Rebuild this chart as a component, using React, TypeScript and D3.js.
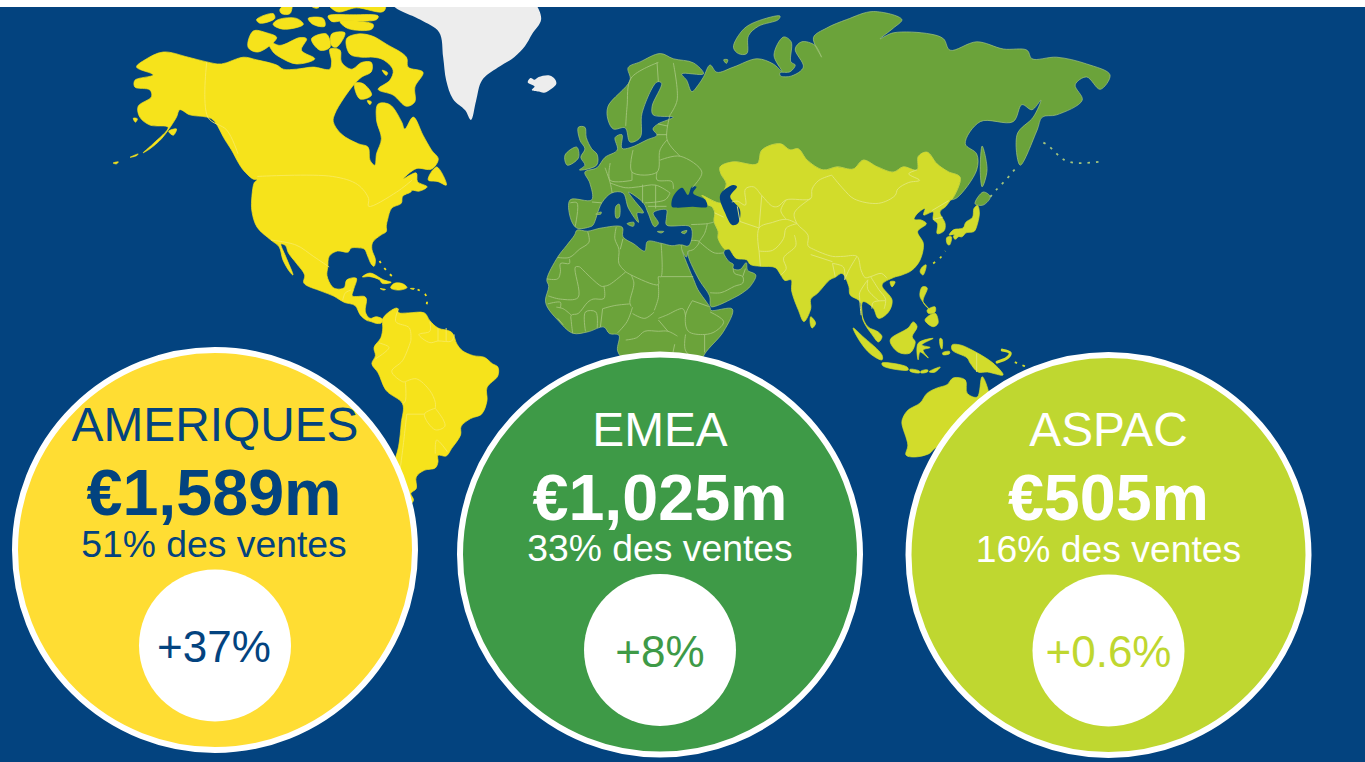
import React from "react";
import * as d3 from "d3";

// values
const regions = ["AMERIQUES", "EMEA", "ASPAC"];
const sales = ["€1,589m", "€1,025m", "€505m"];
const shares = ["51% des ventes", "33% des ventes", "16% des ventes"];
const growth = ["+37%", "+8%", "+0.6%"];

// land outlines as lon/lat
const russiaAsiaBorder = [[131.5,42.5],[132,42.7],[134.9,47.7],[130.5,49],[126.4,50.8],[122.8,52.9],[119.6,52.2],[119.1,49.4],[114,50.1],[110.4,48.9],[104.5,50.1],[99.3,51.5],[95.6,49.6],[89.7,50.1],[84.6,49.4],[78.7,51.5],[75.4,53.5],[72.4,53.3],[68.8,54.4],[62.1,53.3],[60.3,50.8],[51.5,51.2],[46.7,50.1],[47,48.5],[49,46.2],[47.5,43.5],[48.5,41.8],[46,41.8],[40,43.5],[41.5,42.5],[41.5,41.5],[43.5,41],[44.7,39.7],[44.5,37.5],[46,35],[46,33],[48.5,30]];

const northAmerica = [[-167.8,68.1],[-164.7,69.5],[-158,71],[-148.8,70],[-142,69.1],[-136.6,68.7],[-128.6,70],[-123.7,69.5],[-116.3,68.5],[-113.9,67.7],[-109,67.7],[-102.9,68.1],[-96.8,67.7],[-96.1,69.1],[-96.7,71.5],[-93,71.3],[-92.5,69.1],[-88.8,67.7],[-85,69],[-81.5,69],[-81.5,67.2],[-85,66.2],[-87.6,65],[-91.8,62.3],[-94.9,59.7],[-95.5,58.3],[-92.5,56.1],[-86.3,54.4],[-82.7,53.8],[-82,51.5],[-80.2,50.5],[-79.6,52.6],[-77.8,55.3],[-79.6,58.6],[-79,61.4],[-74.7,61.3],[-70.4,58.3],[-69.2,57],[-66.1,59.1],[-62.5,55.9],[-59.4,53.3],[-56.9,51.7],[-59.4,49.6],[-65,49.7],[-69.8,47.3],[-65,48.7],[-64.5,46.7],[-61,45.5],[-64,44.5],[-66.5,44.7],[-67,44.3],[-70,43.3],[-70.5,41.7],[-74,40.6],[-75.5,38],[-76,36.5],[-76,35],[-78,34],[-81,32],[-81.3,30],[-80,27],[-80.5,25.2],[-81.5,25.8],[-82.8,28],[-84,30],[-86,30.4],[-89,30.3],[-90,29.2],[-94,29.5],[-97,28],[-97.5,25],[-97.8,22.3],[-96,19],[-94.5,18.2],[-91.5,18.5],[-90.5,21],[-87,21.5],[-88,18],[-88.5,16],[-84,15.8],[-83.3,15],[-83.7,11],[-82,9],[-79.7,9.5],[-77.4,8.7],[-78,7.5],[-80,7.5],[-81.6,8],[-83,8.3],[-85.5,10],[-87.5,13],[-91.5,14],[-95.2,15.9],[-100,17.5],[-106.3,20],[-106,22.5],[-109,26],[-112,29],[-113,31],[-114.7,31.5],[-113,28],[-110.3,22.5],[-111.5,23.5],[-114,27],[-115.4,30.7],[-118.4,32.6],[-123.5,36.2],[-125.4,39.9],[-125.4,43.3],[-124.5,46.5],[-123.5,47.1],[-125,47.3],[-128.6,49.4],[-130.3,51],[-132.9,53.3],[-135.3,55.1],[-139.6,58.6],[-142,59.1],[-148.2,59.5],[-151.9,60.4],[-153.1,59.1],[-154.9,57.7],[-158.6,55.3],[-162.9,53.5],[-165.4,52.8],[-161.7,54.4],[-156.2,57.3],[-162.9,57.7],[-166.6,59.1],[-167.2,61],[-162.3,62.7],[-162.9,63.9],[-168.4,64.4],[-168.4,65.6],[-161.7,66.6]];
const southAmerica = [[-77.4,8.7],[-75,11],[-72,12.2],[-71.5,10.8],[-68,10.7],[-62,10.7],[-60,8.3],[-57,6],[-52,4.7],[-50,1],[-48,-1],[-44,-2.5],[-40,-3],[-37,-5],[-35,-6],[-35,-9],[-39,-13],[-39,-17.5],[-41,-22],[-45,-23.5],[-48.5,-26],[-48.7,-28.5],[-52,-32.5],[-54,-34.7],[-57,-34.5],[-57,-36.5],[-58,-38.3],[-62,-39],[-65,-41],[-65,-44.5],[-67,-46],[-66,-48],[-69,-51],[-68.5,-52.5],[-70,-55.5],[-74,-52.5],[-75.5,-48],[-74,-43],[-73.5,-38],[-71.5,-32],[-70.5,-25],[-70,-18.5],[-76,-14],[-79,-8],[-81.3,-5],[-80,-2.5],[-80.5,0],[-78,3],[-77.3,6]];
const americasIslands = [
  [[-90.6,73.2],[-86.4,74],[-81.4,73.7],[-75.9,72.3],[-68.6,70],[-68,68.1],[-62.5,67.1],[-65.5,64.4],[-65.5,61.8],[-68.6,61],[-73.5,63],[-79,64],[-74.7,65.6],[-73.5,67.5],[-77.1,69.5],[-80.8,70],[-85.1,70],[-89.4,70.6]],
  [[-87.6,65],[-84.5,65],[-81.4,63],[-85.7,62.3]],
  [[-77.5,67.5],[-75.5,67],[-76,66.5]],
  [[-83,62],[-81.5,61.8],[-82,61.3]],
  [[-119.4,72.8],[-115.1,72.1],[-107.8,73.4],[-105.3,73.2],[-107.2,71.3],[-102.3,69.7],[-109,68.7],[-115.1,70],[-117.6,71]],
  [[-126.8,71.8],[-124.9,74.5],[-120,74.2],[-116.3,73.4],[-123.1,71]],
  [[-103.5,73.2],[-98,74],[-96.7,71.8],[-100.4,71.3]],
  [[-96.1,74],[-91.2,74.2],[-94.3,71.8],[-96.1,72.1]],
  [[-115.7,76.4],[-109,76.6],[-106.5,75.6],[-113.9,74.8],[-117.6,75.6]],
  [[-123.7,76.4],[-117.6,77.4],[-117,76.6],[-122.5,75.8]],
  [[-104.7,76.6],[-99.2,76.6],[-98.6,75.3],[-102.9,75.6]],
  [[-93,76.1],[-80.8,75.6],[-81.4,74.8],[-90,74.9]],
  [[-97.4,77],[-88.2,77.2],[-79,77],[-79.6,76.4],[-91.8,76.2],[-96.1,76.1]],
  [[-99.2,80],[-75,81],[-75.9,78.9],[-77.1,77.7],[-87,78.2],[-94.3,77.7]],
  [[-115.1,78],[-110.8,79],[-111.4,77.4],[-114.5,77.4]],
  [[-104.5,80],[-99.5,80],[-101,78.2],[-103.5,78.4]],
  [[-60.6,47.1],[-57.5,50.1],[-53.9,45.9],[-57,46.7]],
  [[-128.6,49.8],[-124,47.3],[-125,47.8]],
  [[-84.8,21.9],[-82,23.1],[-77,21],[-74.2,20.2],[-77.5,19.9],[-78.5,21],[-82,22]],
  [[-74.4,18.5],[-73,19.9],[-70,19.8],[-68.4,18.6],[-71.5,17.8]],
  [[-78.3,18.3],[-76.3,18],[-77,17.8]],
  [[-67.2,18.3],[-65.7,18.3],[-66,18]],
  [[-169,58.9],[-167.5,58.8],[-168.2,58.2]],
  [[-156,56.6],[-153.1,57],[-154.3,55.9]],
  [[-170.2,52],[-167.2,52.6],[-167.8,52.3]],
  [[-176.4,51],[-174.5,51.2],[-175.2,50.8]],
];
const americasChains = [
  [[-78.5,26.7],[-77,25],[-75,23],[-73,21.5]],
  [[-64.5,18],[-61.7,16.5],[-61,14.5],[-61.5,12.2]],
];
const greenland = [[-73.9,78.9],[-63.6,76.4],[-56.6,74.3],[-55.1,70],[-54,65.6],[-51.5,62.3],[-47,60.3],[-44.9,58.6],[-43,62],[-40.8,65.6],[-35,68],[-29,70],[-25,72],[-22.4,74],[-19.1,76.4],[-21.3,79],[-30,84],[-60,84]];
const iceland = [[-24,65.2],[-23,66],[-21.5,65.7],[-20,66.2],[-16,66.5],[-14,65.8],[-13.5,65],[-15,64.2],[-18,63.4],[-20,63.6],[-22.5,63.9],[-21.5,64.5]];

const eurasiaCoast = [[-8.4,42.5],[-0.5,42.5],[-1.2,46.4],[-3,48.9],[1.4,49.9],[4.4,52],[8.9,53.3],[8.1,55.5],[10.6,56],[10.6,53.6],[13.6,53.7],[19.9,55.1],[23.5,55.9],[22,57],[23.9,57.9],[29.5,59.1],[22.1,59.5],[21.7,61],[25.2,65.1],[23.5,65.3],[18,59.8],[17.3,55.5],[13.6,54.7],[11.8,57.2],[7.5,57],[5.5,58.6],[5.5,61],[13.6,65.6],[12.9,68],[17.3,69.1],[24.7,70.7],[29.5,69.7],[36.9,68.9],[40.6,66.8],[32.6,66.8],[34.4,65.6],[36.3,63.6],[38.7,64.8],[40.6,66.2],[43,68.5],[45.5,67.1],[51.6,68.1],[60.3,69.7],[66.2,68.7],[69.4,67.3],[66.5,70.4],[70,73.5],[72.8,72.7],[72.7,69.1],[74.3,68.5],[72.4,67.2],[68.7,67],[68.9,66.4],[73,66.4],[77.3,68.1],[74.3,71.5],[76.7,72.7],[81.6,72.1],[84,70],[81,73.4],[85.9,75],[93.2,76.4],[103,77.7],[113.5,76.4],[110.4,75],[105.5,73.2],[110.4,74.2],[123.9,74],[128.8,73.2],[131.2,71.3],[141,72.7],[150.8,71.5],[159.5,71.3],[161.3,69.7],[170.4,70],[181.4,68.7],[190,66.6],[186.4,64],[181.4,66.2],[177.2,64.8],[179.8,62.1],[170.4,59.5],[165.1,59.1],[163.2,56.8],[157,50.5],[155.9,56.1],[161.8,59.1],[164.6,62.1],[161.3,60.4],[157.6,61.3],[154.4,58.3],[142.3,58.3],[136.8,54.4],[141,52.6],[141,49.4],[133.8,43]];
const arabiaAndMed = [[48,29],[50,26.5],[51.5,25.8],[51.5,24.5],[54,24.2],[56.3,26.2],[56.8,24],[59.8,22.5],[57.8,19],[55,17],[52,15.5],[45,12.8],[43.3,12.7],[42.8,16],[39,21],[35,28],[34.9,29.5],[34.3,27.8],[32.6,29.9],[32.3,31.2],[35,30.9],[36.4,33.5],[35.7,36.3],[27,36.7],[27,38.5],[27,40.2],[22.1,39.5],[24,37.1],[22.6,36.3],[20.2,39.5],[18.5,41.8],[13,44.3],[15,42.5],[18.5,39.5],[16.2,39.5],[16.7,37.3],[13,40.6],[11,44.1],[6.9,44.1],[3.2,41.8],[0,36.7],[-1,36.3],[-6,36],[-8.4,38.5]];
const africa = [[-5.9,35.4],[-2,35.1],[3,36],[10.7,36.2],[11,33.5],[15,31.5],[19,29.5],[20,32.2],[25,31.7],[29,31],[32.3,31.2],[32.6,29.9],[35,25],[37,21],[38.5,18],[43,12.4],[43.3,11.5],[51.2,11.9],[48,5],[41,-2],[39,-6],[40.5,-15],[35,-20],[35.5,-24],[32.7,-26],[31,-30],[26,-34],[20,-34.8],[18,-33],[15,-27],[12,-18],[13.5,-10],[12,-5],[9,-1],[9.5,3.8],[6,4.3],[4,6.3],[-2,4.8],[-7.5,4.4],[-13,8.5],[-16.8,12.5],[-17.5,14.7],[-16.3,19],[-17,21],[-13,27.8],[-9.8,31],[-6.8,34]];
const emeaIslands = [
  [[-5.4,57.3],[-3,57.3],[-2.5,55.5],[-0.5,53.5],[1.5,52.5],[1.3,50.5],[-5,49.4],[-3,50.5],[-4.5,52],[-3,53.5],[-4.8,55]],
  [[-10.3,52.4],[-6,53.8],[-5.4,51.9],[-9.5,50.5]],
  [[12.5,37],[15,37.3],[14.8,36.4]],
  [[8.4,41],[9.6,41.5],[9.6,38.5],[8.5,38.3]],
  [[23.6,35],[26,35],[25,34.6]],
  [[32.4,34.8],[34.5,35.3],[33.7,34.4]],
  [[1,39.2],[3,39.7],[2.8,39.2]],
  [[51.6,71.8],[55.3,74.8],[60.2,76.1],[68.7,77],[68.1,76.4],[60.8,75.3],[57.1,73.7],[56.5,70.7],[53.4,70.7]],
  [[143,54],[144.8,49.4],[143,45.5],[142.3,49.4]],
  [[140.4,41.6],[143.4,44.3],[146,43.2],[143.4,41.3]],
  [[48,69.5],[49.5,69.5],[49,68.8]],
];
const kurils = [[146,43.2],[148.5,45],[151,46.6],[153,48],[155,49.5],[156.5,50.2]];
const farIslands = [[165.5,54.6],[167,54.2],[172,51.9],[173,51.6],[177,51],[186,51.2]];

const asia = [...russiaAsiaBorder,[50,30],[52.5,27.5],[56.5,27],[57.8,25.7],[61.5,25.2],[67,24.8],[69,22.5],[70.5,20.8],[72.8,21],[73,17.5],[75.5,11.5],[77.5,8],[80,12],[80,15],[82.5,16.8],[87,21],[89,21.8],[91.5,23],[94,19],[94.5,16.3],[98.2,14.2],[99.2,8.5],[102.6,3.9],[104.9,1.7],[106.2,3.3],[104.8,4.8],[101,6.4],[98.9,10],[99.2,14.2],[102.9,12.3],[104.9,9],[108.6,11],[109.9,14.7],[106.2,19.4],[110.4,21.7],[113.5,22.5],[117.2,24],[120.2,27],[121.4,31.6],[119.3,35],[122.5,37],[120.8,37.8],[118,38],[119,39.2],[122,40.5],[121.5,39],[125,39.7],[125,38],[126.6,37],[126.5,34.4],[129,35.2],[129.4,37],[127.5,39.7],[129.7,41]];
const asiaIslands = [
  [[130.9,34],[132.5,35.5],[136,36],[137,37.3],[139.5,38.5],[140,40.5],[141.3,41.2],[142,39.5],[140.8,36],[140,35],[137,34.6],[135.5,33.5],[132.5,34.2]],
  [[130,33.3],[131.7,33.5],[131,31.2],[130.2,31.5]],
  [[132.5,33.8],[134.5,34.2],[134,33.3],[133,32.8]],
  [[121,25],[122.4,25.6],[121.3,22.5],[120.2,23.5]],
  [[109.2,20.4],[111,20.4],[109.9,18.8]],
  [[80,9.5],[81.8,7.5],[80.5,6],[79.8,7.5]],
  [[121,18.8],[122.8,18.5],[121.3,14.2],[123.9,11.6],[120.2,15.7]],
  [[122,8.5],[125.7,10.6],[126.8,7.5],[125,6.4]],
  [[122.8,11.6],[125.7,12.6],[125.7,11],[123.2,10.6]],
  [[109.2,2.3],[115.8,6],[117.7,7.9],[119.1,6.4],[117.3,3.3],[118.4,1.7],[116.5,-1.7],[112.1,-1.4]],
  [[95.6,6],[99,3.5],[106.2,-2.3],[106.2,-3.8],[102,-2],[98,2]],
  [[106.2,-4.8],[115.4,-6],[115.8,-7],[106.6,-5.7]],
  [[116.5,-6.8],[120,-7.4],[120,-8],[116.5,-7.4]],
  [[120.5,-7.4],[123,-7],[123,-7.6],[120.5,-8]],
  [[123.5,-7.6],[127.6,-6],[125.5,-7.8]],
  [[119.5,1.3],[125,2.8],[120.8,0.8],[123.9,0],[121.3,-0.8],[123.2,-3.2],[120.2,-1.4],[119.5,-3.8]],
  [[127.5,2.8],[128.3,2.5],[128.2,-0.5],[127.6,0.5]],
  [[128.5,-1.6],[131,-1.2],[131,-1.9],[128.6,-2.2]],
  [[132,0.8],[134.9,0.8],[139.3,-0.8],[147,-4.8],[150.7,-8.7],[144.9,-7.7],[141.5,-7.7],[138.6,-4.8],[137.5,-3.2],[132,-0.8]],
  [[113.5,-25],[114,-23],[115.8,-20.6],[120.2,-18.2],[122.8,-14.9],[126.5,-13.1],[130.1,-12],[132.4,-9.7],[136.8,-10.4],[137.5,-14.9],[141.2,-16.2],[143,-9.3],[145.2,-13.8],[146,-19],[149,-21],[153,-25.5],[153.5,-28.5],[151,-34],[150,-37.5],[146,-39],[143,-38.7],[140,-38],[138,-35.5],[135.5,-34.8],[131,-31.5],[126,-32.3],[123.5,-34],[118,-35],[115,-34.4],[115.7,-31.5]],
];
const asiaChains = [
  [[125,26],[127.5,27.5],[129.5,29.5]],
  [[155,-4.5],[157,-5.2],[160,-6.2]],
];
const newBritain = [[150.4,-0.8],[153.3,-1.7],[152.2,-3.2],[148.5,-4.5]];
const blackSea = [[29,40.9],[29.4,43.2],[32.7,45.3],[34.9,43.6],[36.3,45.5],[38,45.5],[36.8,44],[41.2,42.5],[41.9,40.9],[36.5,40.9],[30.9,40.7]];
const caspianSea = [[46.7,43.6],[51.5,45.9],[52.9,45.5],[50.4,43.2],[54,40.2],[53.3,37.1],[51.1,36.7],[48.5,39.5]];

const americasBorders = [
  [[-142,69.1],[-141.6,59.1],[-134.6,56.8],[-130.5,52.6]],
  [[-123.4,47.9],[-95.8,47.9],[-86.5,46],[-82.5,42.8],[-82.5,41],[-72.2,44.3],[-66.6,47]],
  [[-118.4,32.6],[-109.2,31.2],[-102.6,27.9],[-97,25]],
  [[-92,14.7],[-91,17],[-89,17.8]],
  [[-71.5,12],[-72.5,8],[-67.5,6],[-67,2]],
  [[-67,2],[-70,-4],[-74,-7.5],[-70,-11],[-69,-11]],
  [[-60,8],[-60,5],[-64,4],[-60,1.5],[-57,2],[-52,2],[-51,4]],
  [[-57,6],[-57,2]],[[-54,6],[-54,2]],
  [[-78.7,1.4],[-75,0],[-80,-3.5]],
  [[-69,-11],[-69,-17.5],[-70,-18.5]],
  [[-69,-11],[-65,-10],[-60,-14],[-58,-18],[-58,-20]],
  [[-58,-20],[-55,-24],[-54.5,-26],[-58,-27],[-62,-22],[-58,-20]],
  [[-68.5,-22],[-70,-33],[-72,-45],[-73,-50],[-69,-52]],
  [[-68.5,-22],[-62,-22]],
  [[-58,-34],[-57.5,-30],[-53.5,-33.5]],
];
const emeaBorders = [
  [[-2,35],[-1.5,32],[-5,30],[-8.7,27.7],[-13,27.7]],
  [[-8.7,27.3],[-8.7,26],[-12,26],[-12,23.5],[-13,21.3],[-17,21.3]],
  [[8.5,36.2],[8,33],[9.5,30],[9.5,26],[12,23.5]],
  [[11,33],[10,30]],
  [[12,23.5],[14,22.5],[24,19.5],[24,22],[25,22],[25,31.7]],
  [[-4.8,25],[3,19],[4,19],[6,19.5],[12,23.5]],
  [[-4.8,25],[-6.5,25],[-5.5,15.5],[-12,15],[-16.5,16]],
  [[4,19],[4,15.2],[0,15],[-2,14],[-5.5,10.5],[-8,10],[-8,8],[-7.5,4.4]],
  [[14,22.5],[15,20],[13.5,14],[14,12.7]],
  [[3.5,12],[8,13],[13.5,13.5]],
  [[9,4.5],[12.5,8],[14.5,12.5]],
  [[24,19.5],[24,15.5],[22.5,11.5]],
  [[14.5,10.5],[19,9],[22.5,11]],
  [[25,22],[36.8,22]],
  [[24,9],[27,10],[33,12],[34,9.5]],
  [[36.5,14.5],[34,10],[35,5],[41,4],[45,5],[48,8],[43,11]],
  [[36.5,14.5],[42.5,12.7]],
  [[34,4],[34,-1],[39.5,-4.7]],
  [[41,-1.5],[41,4]],
  [[12,2.3],[16,3],[19,5],[24,5],[27.5,5],[31,3.5]],
  [[24,8.5],[27.5,5]],
  [[30,1],[29,-3]],
  [[-2.8,5],[-2.8,11],[1,11],[1.5,6]],
  [[2.7,6.3],[3.5,12]],
  [[-13.5,12.5],[-11,12],[-8,10]],
  [[-13,9],[-11,7]],
  [[-16.7,13.5],[-12,14],[-12,12.4]],
  [[3.2,41.8],[-0.4,42]],
  [[-8.4,41.8],[-5.9,41.8],[-6.6,36.3]],
  [[24,69],[14,66],[12.5,61],[12,57.5]],
  [[23.5,69],[24,65.3]],
  [[29.5,68.9],[30.9,62.1],[28.3,59.5]],
  [[28.3,59.5],[27.2,55.1],[32,52.2]],
  [[24.6,51.5],[32,52.2],[40,48.9],[36.4,45.3]],
  [[23.5,56],[27.2,56]],[[23.9,57.9],[27.5,57.5]],
  [[14.7,53.3],[14.3,48.9],[23.5,48.9],[24.6,53.3],[27.2,55.1]],
  [[23.5,48.9],[23.5,47.1],[29,46.7],[29.5,45]],
  [[4.4,49.9],[6.3,46.4],[7,44.1]],
  [[6.3,51],[6.3,47],[14.3,47]],
  [[14.3,48.9],[14.3,47]],
  [[6.3,46.4],[11.8,45.3],[16.7,45.5],[23,45.9],[28.3,44.1]],
  [[19,41.8],[26.5,42.5],[28.3,44.1]],
  [[18.2,46],[18.2,41.8]],
  [[23,45.9],[23,40.5]],
  [[20.2,41],[27,41]],
  [[36,36.8],[42,37],[44.5,37.4]],
  [[42,37],[41,34.5],[39,32.2]],
  [[36,32.5],[39,32.2],[37,30],[35,29.5]],
  [[39,32.2],[44.5,29],[48,29]],
  [[43,17],[47,17],[52,19],[55,20],[55,22],[52,23],[51.5,24.5]],
  [[55,22],[56,24.5]],
];
const asiaBorders = [
  [[87.7,48.2],[92,45],[96,42.7],[105,41.7],[111,43.5],[112,45],[116,46.5],[120,47],[116,48.5],[119.1,49.4]],
  [[51,42],[53,42.2],[56,41.3],[56,45],[59,45.5],[62,43.5],[66,41],[68,41],[71,42.5],[80,42.8],[80.5,45],[83,47],[87.7,48.2]],
  [[80,42.8],[74,39.5],[75,37],[79,34],[79,31],[81,30],[88,28],[92,28],[97,28],[98.5,24],[100,21.7],[102,22],[106,23],[108,21.5]],
  [[61,29.5],[61.5,25.2]],
  [[61,29.5],[61,36],[66,37.3],[71,38],[75,37]],
  [[61,29.5],[66,29.7],[70,33],[71,36],[75,37]],
  [[74,34],[74.5,31],[70,27.5],[71,24.5],[69,22.5]],
  [[80,28.5],[88,26.5]],
  [[88,26],[89,22]],[[92.5,21],[92,25],[88,26]],
  [[92.5,21],[94,24],[97,28]],
  [[98.5,10],[98,15],[98,17],[101,21]],
  [[102,22],[105,18],[107.5,15],[107,12]],
  [[102.5,12],[103,14],[107.5,14.5]],
  [[101,21],[101,18],[105,14.5]],
  [[44.7,39.5],[48,38.5]],
  [[54,37.5],[61,36]],
  [[54,37.5],[53,41]],
  [[62,43.5],[61,36]],
  [[71,42.5],[69,40],[71,38]],
  [[125,38],[128.5,38.5]],
  [[124.5,40],[130.7,42.3]],
  [[141,-1.8],[141,-7.7]],
];

// cylindrical map: longitude is linear, latitude follows the stretched scale of the source map
const lonX = d3.scaleLinear().domain([-168, 190]).range([136, 1110]);
const latY = d3.scaleLinear()
  .domain([-60, -34.4, -25, -6, 6, 25, 36, 51, 66, 71, 77.5, 84])
  .range([540, 455, 423, 367, 328, 267, 228, 163, 78, 52, 13, -35]);
// coasts get a rounded closed curve, like the soft outlines of the source map
const poly = d3.line()
  .x((d) => lonX(d[0]))
  .y((d) => latY(d[1]))
  .curve(d3.curveCatmullRomClosed.alpha(0.5));
const line = d3.line()
  .x((d) => lonX(d[0]))
  .y((d) => latY(d[1]))
  .curve(d3.curveCatmullRom.alpha(0.5));

const navy = "#03437F";
const yellowLand = "#F6E31B";
const greenLand = "#6BA33A";
const limeLand = "#D2DC2B";
const bubbleFill = d3.scaleOrdinal(regions, ["#FFDD33", "#3E9A47", "#BFD730"]);
const textFill = d3.scaleOrdinal(regions, [navy, "#FFFFFF", "#FFFFFF"]);
const growthFill = d3.scaleOrdinal(regions, [navy, "#3E9A47", "#BFD730"]);
const bubbleX = d3.scaleOrdinal(regions, [215, 660, 1108.5]);
const bubbleY = d3.scaleOrdinal(regions, [550, 554.5, 555]);
const labelX = d3.scaleOrdinal(regions, [214, 660, 1108.5]);

const landLayers = [
  { fill: yellowLand, edge: yellowLand, line: "#F8EA5E", shapes: [northAmerica, southAmerica, ...americasIslands], borders: americasBorders, chains: americasChains },
  { fill: greenLand, edge: "#A3C47C", line: "#A3C47C", shapes: [[...eurasiaCoast, ...russiaAsiaBorder, ...arabiaAndMed], africa, ...emeaIslands], borders: emeaBorders, chains: [kurils, farIslands] },
  { fill: limeLand, edge: limeLand, line: "#E2E87A", shapes: [asia, ...asiaIslands], borders: asiaBorders, chains: asiaChains },
];

const fontFamily = '"Liberation Sans", Arial, sans-serif';

const Bubble = ({ name, i }) => {
  const cx = bubbleX(name);
  const cy = bubbleY(name);
  const lx = labelX(name);
  const fill = textFill(name);
  return (
    <g textAnchor="middle" fontFamily={fontFamily}>
      <circle cx={cx} cy={cy} r={200} fill={bubbleFill(name)} stroke="#fff" strokeWidth={6} />
      <circle cx={cx} cy={cy + 95.5} r={76} fill="#fff" />
      <text x={cx} y={cy - 109} fontSize={47.8} fill={fill}>{name}</text>
      <text x={lx} y={cy - 35} fontSize={64.6} fontWeight="bold" fill={fill}>{sales[i]}</text>
      <text x={lx} y={cy + 6.5} fontSize={37.3} fill={fill}>{shares[i]}</text>
      <text x={lx} y={cy + 112} fontSize={44} fill={growthFill(name)}>{growth[i]}</text>
    </g>
  );
};

export default function App() {
  return (
    <svg width={1365} height={762} style={{ position: "absolute", left: 0, top: 0 }}>
      <rect width={1365} height={762} fill={navy} />
      {landLayers.map((layer, i) => (
        <g key={i}>
          {layer.shapes.map((s, j) => (
            <path key={j} d={poly(s)} fill={layer.fill} stroke={layer.edge} strokeWidth={0.7} strokeLinejoin="round" />
          ))}
          {layer.chains.map((c, j) => (
            <path key={j} d={line(c)} fill="none" stroke={layer.edge} strokeWidth={1.8} strokeDasharray="2.5 6" />
          ))}
        </g>
      ))}
      <path d={line(newBritain)} fill="none" stroke={limeLand} strokeWidth={3} strokeLinecap="round" />
      <path d={poly(greenland)} fill="#EDEDED" />
      <path d={poly(iceland)} fill="#EDEDED" />
      <path d={poly(blackSea)} fill={navy} />
      <path d={poly(caspianSea)} fill={navy} />
      {landLayers.map((layer, i) => (
        <g key={i} fill="none" stroke={layer.line} strokeWidth={0.9}>
          {layer.borders.map((b, j) => (
            <path key={j} d={line(b)} />
          ))}
        </g>
      ))}
      <rect width={1365} height={7} fill="#fff" />
      {regions.map((name, i) => (
        <Bubble key={name} name={name} i={i} />
      ))}
    </svg>
  );
}
